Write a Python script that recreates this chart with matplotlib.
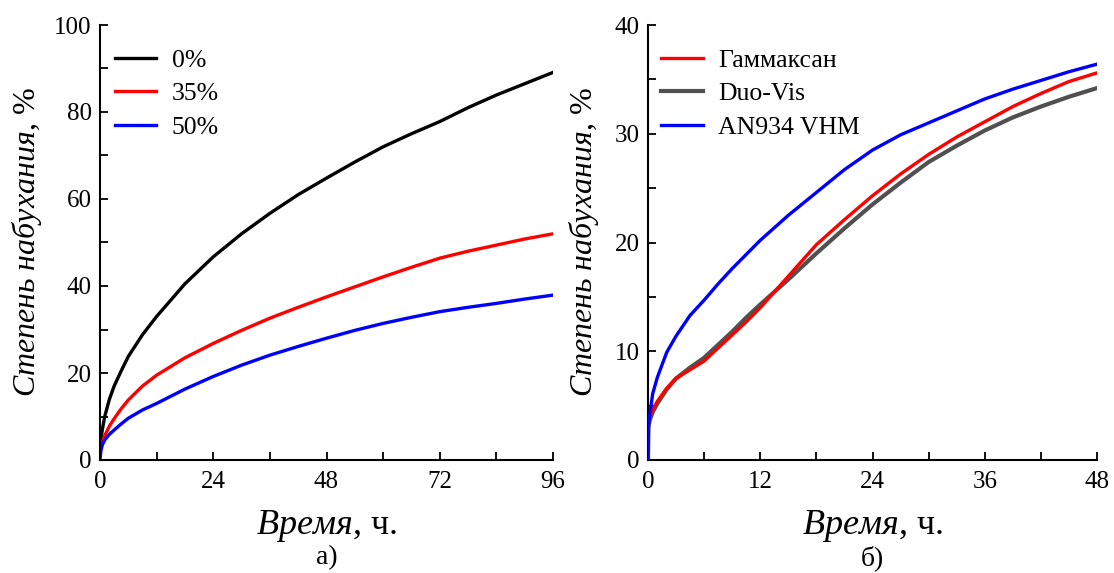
import numpy as np
import matplotlib.pyplot as plt
from matplotlib.ticker import MultipleLocator

plt.rcParams['font.family'] = ['Liberation Serif', 'DejaVu Serif']
plt.rcParams['mathtext.fontset'] = 'custom'
plt.rcParams['mathtext.it'] = 'Liberation Serif:italic'
plt.rcParams['mathtext.rm'] = 'Liberation Serif'

# a) swelling at different concentrations
t_a = [0, 0.2, 0.5, 1, 2, 3, 4.5, 6, 9, 12, 18, 24, 30, 36, 42, 48, 54, 60, 66, 72, 78, 84, 90, 96]
swell_0 = [2.5, 5.0, 7.0, 10.0, 14.0, 17.0, 20.5, 23.8, 28.8, 33.0, 40.5, 46.7, 52.0, 56.7,
           61.0, 64.8, 68.5, 72.0, 75.0, 77.8, 81.0, 83.9, 86.5, 89.1]
swell_35 = [2.0, 3.0, 4.0, 5.6, 7.8, 9.5, 11.8, 13.8, 17.0, 19.5, 23.5, 26.8, 29.8, 32.6,
            35.1, 37.5, 39.8, 42.1, 44.3, 46.4, 48.0, 49.4, 50.8, 52.0]
swell_50 = [0.0, 2.2, 3.5, 4.6, 5.9, 6.9, 8.3, 9.6, 11.5, 13.0, 16.3, 19.2, 21.8, 24.1,
            26.1, 28.0, 29.8, 31.4, 32.8, 34.1, 35.1, 36.0, 37.0, 37.9]
labels_a = ['0%', '35%', '50%']

# b) swelling for different polymers
t_b = [0, 0.05, 0.2, 0.5, 1, 2, 3, 4.5, 6, 7.5, 9, 10.5, 12, 15, 18, 21, 24, 27, 30,
       33, 36, 39, 42, 45, 48]
gammaksan = [0.0, 3.5, 4.0, 4.6, 5.4, 6.6, 7.5, 8.3, 9.1, 10.3, 11.5, 12.7, 14.0, 16.9,
             19.8, 22.1, 24.3, 26.3, 28.1, 29.7, 31.1, 32.5, 33.7, 34.8, 35.6]
duovis = [0.0, 3.0, 3.7, 4.4, 5.2, 6.5, 7.5, 8.5, 9.4, 10.6, 11.8, 13.1, 14.3, 16.6,
          19.0, 21.3, 23.5, 25.5, 27.4, 28.9, 30.3, 31.5, 32.5, 33.4, 34.2]
an934 = [0.0, 3.2, 4.2, 6.1, 7.6, 9.9, 11.4, 13.3, 14.7, 16.2, 17.6, 18.9, 20.2, 22.5,
         24.6, 26.7, 28.5, 29.9, 31.0, 32.1, 33.2, 34.1, 34.9, 35.7, 36.4]
labels_b = ['Гаммаксан', 'Duo-Vis', 'AN934 VHM']

fig = plt.figure(figsize=(11.14, 5.73), dpi=100)
ax1 = fig.add_axes([100 / 1114, 113 / 573, 453 / 1114, 435 / 573])
ax2 = fig.add_axes([648 / 1114, 113 / 573, 449 / 1114, 435 / 573])

lw = 2.4
ax1.plot(t_a, swell_0, color='black', lw=lw, label=labels_a[0])
ax1.plot(t_a, swell_35, color='#ff0000', lw=lw, label=labels_a[1])
ax1.plot(t_a, swell_50, color='#0000ff', lw=lw, label=labels_a[2])

ax2.plot(t_b, gammaksan, color='#ff0000', lw=lw, label=labels_b[0], zorder=3)
ax2.plot(t_b, duovis, color='#505050', lw=lw + 0.6, label=labels_b[1], zorder=2)
ax2.plot(t_b, an934, color='#0000ff', lw=lw, label=labels_b[2], zorder=4)

ax1.set_xlim(0, 96)
ax1.set_ylim(0, 100)
ax1.xaxis.set_major_locator(MultipleLocator(24))
ax1.xaxis.set_minor_locator(MultipleLocator(12))
ax1.yaxis.set_major_locator(MultipleLocator(20))
ax1.yaxis.set_minor_locator(MultipleLocator(10))

ax2.set_xlim(0, 48)
ax2.set_ylim(0, 40)
ax2.xaxis.set_major_locator(MultipleLocator(12))
ax2.xaxis.set_minor_locator(MultipleLocator(6))
ax2.yaxis.set_major_locator(MultipleLocator(10))
ax2.yaxis.set_minor_locator(MultipleLocator(5))

ylab = r'$\mathit{Степень\ набухания}$, %'
xlab = r'$\mathit{Время}$, ч.'

for ax, tag, ylx, lgx in [(ax1, 'а)', -0.124, 0.011), (ax2, 'б)', -0.105, 0.007)]:
    ax.spines['top'].set_visible(False)
    ax.spines['right'].set_visible(False)
    ax.spines['left'].set_linewidth(1.5)
    ax.spines['bottom'].set_linewidth(1.5)
    ax.tick_params(which='both', direction='in', length=6, width=1.3, labelsize=18)
    ax.tick_params(axis='x', pad=8)
    ax.tick_params(axis='y', pad=6)
    ax.set_xlabel(xlab, fontsize=26, labelpad=11)
    ax.set_ylabel(ylab, fontsize=23)
    ax.yaxis.set_label_coords(ylx, 0.5)
    ax.text(0.5, -0.195, tag, transform=ax.transAxes, ha='center', va='top', fontsize=20)
    ax.legend(loc='upper left', bbox_to_anchor=(lgx, 0.968), frameon=False, fontsize=18.5,
              handlelength=1.6, handletextpad=0.6, labelspacing=0.4, borderaxespad=0.0)

plt.savefig('out.png', dpi=100)
